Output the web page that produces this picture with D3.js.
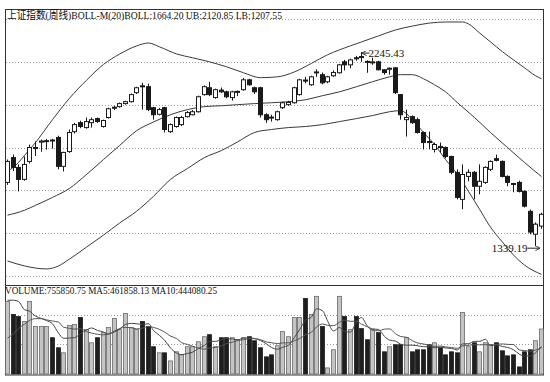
<!DOCTYPE html>
<html><head><meta charset="utf-8">
<script src="https://cdn.jsdelivr.net/npm/d3@7"></script>
<style>body{margin:0;background:#fff}svg{display:block}</style>
</head><body><svg id="c" width="550" height="382"></svg>
<script>
// ---- data (weekly candles) ----
const open =[1637,1753,1707,1651,1735,1795,1825,1828,1835,1847,1712,1781,1874,1916,1893,1916,1935,1898,1940,1984,1991,2005,2014,2056,2088,2084,1986,1955,1986,1874,1898,1907,1944,1953,1967,2047,2079,2033,2068,2060,2033,2060,2070,2116,2079,2079,1953,1942,1930,1986,2000,2009,2047,2115,2093,2150,2140,2107,2135,2149,2200,2186,2219,2225,2202,2195,2200,2163,2168,2172,2047,1930,1944,1930,1870,1828,1791,1805,1800,1758,1684,1558,1665,1684,1619,1637,1698,1748,1735,1665,1632,1637,1595,1502,1395,1433];
const high =[1744,1767,1721,1758,1814,1828,1837,1840,1840,1855,1780,1884,1915,1925,1940,1940,1940,1930,1986,1995,2010,2018,2052,2084,2102,2098,1990,1985,1990,1912,1945,1948,1970,1975,2042,2090,2107,2075,2080,2065,2065,2066,2125,2121,2084,2084,1960,1953,1972,2014,2018,2084,2121,2130,2135,2165,2150,2135,2160,2190,2209,2215,2228,2245.43,2207,2219,2205,2165,2174,2176,2050,1977,1950,1940,1875,1874,1823,1823,1805,1762,1698,1721,1698,1690,1721,1712,1740,1767,1740,1670,1635,1645,1600,1510,1450,1495];
const low  =[1625,1690,1595,1645,1725,1760,1780,1790,1795,1698,1688,1775,1865,1890,1888,1893,1915,1893,1935,1975,1986,2000,2010,2050,1977,1970,1930,1950,1870,1868,1893,1900,1940,1950,1963,2042,2040,2028,2055,2030,2019,2040,2065,2088,2050,1940,1915,1921,1925,1980,1995,2005,2042,2100,2088,2130,2095,2100,2130,2145,2160,2170,2205,2200,2149,2186,2160,2140,2140,2050,1930,1851,1910,1865,1791,1791,1777,1777,1750,1675,1558,1512,1642,1558,1581,1630,1690,1735,1660,1619,1591,1590,1520,1395,1339.19,1420];
const close=[1735,1707,1651,1721,1800,1800,1830,1832,1832,1712,1777,1870,1907,1898,1921,1930,1921,1926,1981,1988,2005,2014,2047,2079,2084,1977,1953,1977,1884,1907,1940,1940,1963,1967,2037,2084,2047,2070,2060,2037,2060,2062,2116,2093,2060,1953,1930,1938,1967,2009,2010,2079,2116,2110,2130,2153,2102,2130,2150,2186,2186,2209,2215,2220,2200,2200,2163,2150,2170,2056,1953,1940,1916,1870,1823,1823,1814,1800,1758,1684,1567,1674,1684,1619,1642,1707,1735,1740,1665,1637,1628,1595,1526,1405,1442,1488];
// volume in thousands
const volumeK=[1220,1000,966,881,1220,797,797,797,610,441,356,814,831,949,746,525,610,695,780,932,746,1017,780,746,881,797,458,356,356,220,373,322,458,458,542,627,661,458,610,610,610,576,610,627,559,441,288,322,475,712,627,949,949,1271,1000,1305,797,102,407,1305,966,746,966,763,576,746,695,373,458,492,492,610,373,407,407,492,525,441,322,373,356,1034,458,525,373,525,492,525,390,305,322,119,373,407,559,755.85];
const ma5K =[1240,1240,1220,1080,1057,973,932,898,844,688,600,604,610,678,739,773,732,705,671,708,753,834,851,844,834,844,732,648,570,437,353,325,346,366,431,481,549,549,580,593,590,573,603,607,596,563,505,447,417,448,485,617,742,902,959,1095,1064,895,722,783,715,705,878,949,803,759,749,631,570,553,502,485,485,475,458,458,441,454,437,431,403,505,509,549,549,583,475,488,461,447,407,332,302,305,356,461.86];
const ma10K=[600,680,760,840,900,930,930,910,890,873,787,768,754,761,714,687,668,658,675,724,763,783,778,758,771,798,783,749,707,636,598,529,497,468,434,417,437,448,473,512,536,561,576,593,595,576,539,525,512,522,524,561,595,659,703,790,841,819,812,871,905,885,887,836,793,737,727,754,759,678,631,617,558,522,505,480,463,470,456,444,431,473,482,493,490,493,490,498,505,498,495,403,395,383,402,444.08];
// Bollinger bands read at sample weeks
const ubIdx=[0,2,3,5,8,11,14,17,20,23,25,27,30,33,36,39,42,45,48,51,54,57,59,63,66,69,72,75,78,81,82,84,86,88,90,92,94,95];
const ubVal=[1688,1730,1763,1823,1930,2030,2114,2188,2236,2274,2288,2270,2237,2219,2200,2177,2149,2126,2130,2153,2193,2233,2256,2293,2321,2349,2367,2381,2386,2386,2377,2335,2293,2247,2209,2172,2135,2120.85];
const mbIdx=[0,3,5,8,11,14,17,20,23,26,29,32,35,38,41,44,47,50,53,56,59,62,65,68,70,72,74,76,78,80,83,86,89,92,95];
const mbVal=[1484,1507,1530,1567,1609,1674,1744,1809,1878,1919,1953,1977,1991,1995,2000,2005,2009,2014,2023,2042,2060,2084,2107,2130,2140,2140,2121,2093,2060,2009,1940,1870,1800,1730,1664.20];
const lbIdx=[0,3,5,7,9,11,14,17,20,23,26,29,32,35,38,41,44,47,50,53,56,59,62,65,68,70,72,74,76,78,80,82,84,86,88,90,92,95];
const lbVal=[1270,1247,1237,1233,1247,1279,1335,1391,1447,1502,1572,1651,1702,1753,1786,1826,1870,1884,1893,1898,1907,1921,1935,1949,1967,1972,1930,1870,1814,1744,1674,1595,1512,1428,1358,1298,1251,1207.55];
const priceTicks=[1200,1400,1600,1800,2000,2200,2400];
const volTicksK=[500,1000];
const titleText="上证指数(周线)BOLL-M(20)BOLL:1664.20  UB:2120.85  LB:1207.55";
const volTitleText="VOLUME:755850.75  MA5:461858.13  MA10:444080.25";
const hiIdx=63, hiLabel="2245.43";
const loIdx=94, loLabel="1339.19";

// ---- drawing ----
const svg=d3.select('#c');
const n=open.length;
const x=d3.scaleBand().domain(d3.range(n)).range([4.2,543.8]);
const cx=i=>Math.round(x(i)+x.bandwidth()/2)+0.5;
const y=d3.scaleLinear().domain([1200,2400]).range([276,19]);
const yv=d3.scaleLinear().domain([0,1000]).range([374,314.5]);
const ink='#1a1a1a';

svg.append('rect').attr('width',550).attr('height',382).attr('fill','#fff');

// grid
const g=svg.append('g');
g.selectAll('.pg').data(priceTicks).join('line')
 .attr('x1',6).attr('x2',543).attr('y1',d=>Math.round(y(d))+0.5).attr('y2',d=>Math.round(y(d))+0.5)
 .attr('stroke','#9a9a9a').attr('stroke-dasharray','1,2');
g.selectAll('.vg').data(volTicksK).join('line')
 .attr('x1',6).attr('x2',543).attr('y1',d=>Math.round(yv(d))+0.5).attr('y2',d=>Math.round(yv(d))+0.5)
 .attr('stroke','#9a9a9a').attr('stroke-dasharray','1,2');

// frames
svg.append('rect').attr('x',5.5).attr('y',9.5).attr('width',538).attr('height',276)
 .attr('fill','none').attr('stroke','#333');
svg.append('rect').attr('x',5.5).attr('y',285.5).attr('width',538).attr('height',89.5)
 .attr('fill','none').attr('stroke','#333');

// bollinger lines
const line=d3.line().x(d=>cx(d[0])).y(d=>y(d[1])).curve(d3.curveMonotoneX);
[[ubIdx,ubVal],[mbIdx,mbVal],[lbIdx,lbVal]].forEach(([ix,vv])=>{
  svg.append('path').attr('d',line(d3.zip(ix,vv))).attr('fill','none')
   .attr('stroke','#3a3a3a').attr('stroke-width',1);
});

// candles
const idx=d3.range(n);
const cg=svg.append('g');
cg.selectAll('.wick').data(idx).join('line')
 .attr('x1',cx).attr('x2',cx).attr('y1',i=>y(high[i])).attr('y2',i=>y(low[i]))
 .attr('stroke',ink).attr('stroke-width',1);
cg.selectAll('.body').data(idx).join('rect')
 .attr('x',i=>cx(i)-2).attr('width',4)
 .attr('y',i=>y(Math.max(open[i],close[i])))
 .attr('height',i=>Math.max(1,Math.abs(y(open[i])-y(close[i]))))
 .attr('fill',i=>close[i]>=open[i]?'#fff':ink)
 .attr('stroke',ink).attr('stroke-width',1);

// volume bars
svg.append('g').selectAll('rect').data(idx).join('rect')
 .attr('x',i=>cx(i)-2).attr('width',4)
 .attr('y',i=>yv(volumeK[i])).attr('height',i=>yv(0)-yv(volumeK[i]))
 .attr('fill',i=>close[i]>=open[i]?'#c4c4c4':'#1e1e1e')
 .attr('stroke',i=>close[i]>=open[i]?'#6a6a6a':'#1e1e1e').attr('stroke-width',0.8);

// volume MAs
const vline=d3.line().x((d,i)=>cx(i)).y(d=>yv(d)).curve(d3.curveMonotoneX);
svg.append('path').attr('d',vline(ma5K)).attr('fill','none').attr('stroke','#444').attr('stroke-width',1);
svg.append('path').attr('d',vline(ma10K)).attr('fill','none').attr('stroke','#555').attr('stroke-width',1);

// titles
const serif='"Liberation Serif","Noto Sans CJK SC",serif';
svg.append('rect').attr('x',6).attr('y',10).attr('width',280).attr('height',9).attr('fill','#fff');
svg.append('text').attr('x',7).attr('y',18.5).attr('font-family',serif).attr('font-size',11)
 .attr('fill','#111').attr('textLength',275).attr('lengthAdjust','spacingAndGlyphs').text(titleText);
svg.append('text').attr('x',5).attr('y',294).attr('font-family',serif).attr('font-size',10.5)
 .attr('fill','#111').attr('textLength',212).attr('lengthAdjust','spacingAndGlyphs').text(volTitleText);

// annotations
svg.append('defs').html('<marker id="ah" viewBox="0 0 6 6" refX="5" refY="3" markerWidth="5" markerHeight="5" orient="auto"><path d="M0,0L6,3L0,6" fill="none" stroke="#222" stroke-width="1"/></marker>');
const hx=cx(hiIdx), hy=y(high[hiIdx]);
svg.append('line').attr('x1',hx+8).attr('y1',hy+1).attr('x2',hx+1).attr('y2',hy+1)
 .attr('stroke','#222').attr('marker-end','url(#ah)');
svg.append('text').attr('x',hx+7).attr('y',hy+5).attr('font-family',serif).attr('font-size',11)
 .attr('fill','#111').text(hiLabel);
const lx=cx(loIdx), ly=y(low[loIdx]);
svg.append('line').attr('x1',lx-8).attr('y1',ly+2).attr('x2',lx+4).attr('y2',ly+2)
 .attr('stroke','#222').attr('marker-end','url(#ah)');
svg.append('text').attr('x',lx-8).attr('y',ly+6).attr('text-anchor','end').attr('font-family',serif).attr('font-size',11)
 .attr('fill','#111').text(loLabel);
</script></body></html>
